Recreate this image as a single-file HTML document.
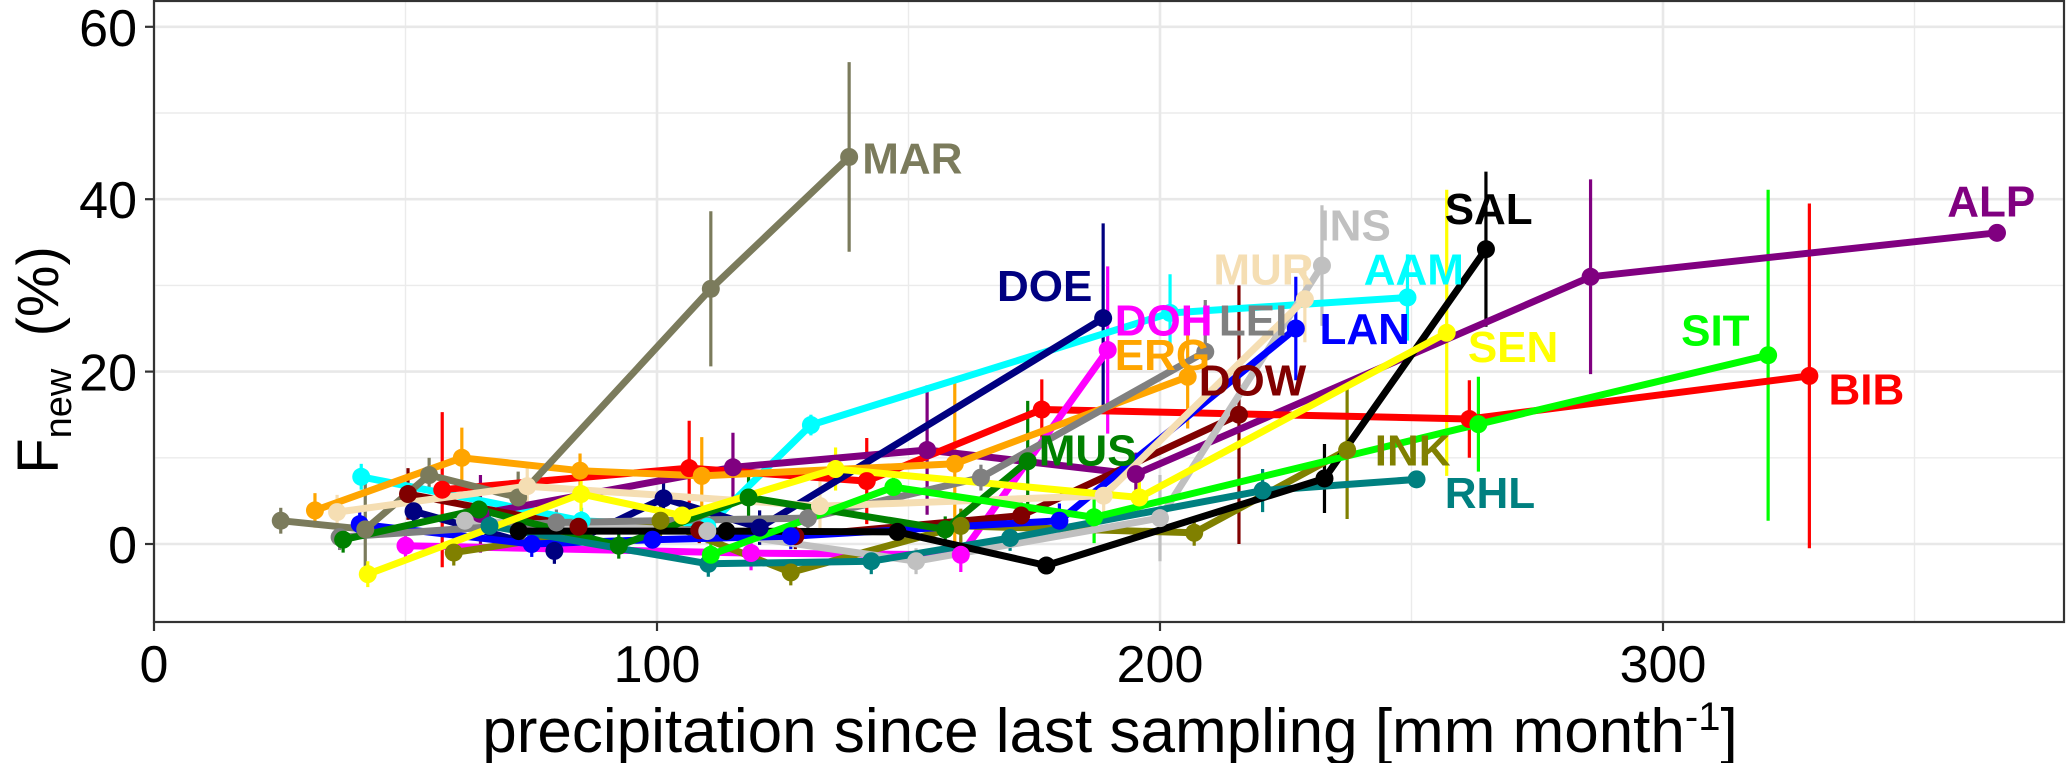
<!DOCTYPE html>
<html><head><meta charset="utf-8"><style>
html,body{margin:0;padding:0;background:#fff;}
svg{display:block;font-family:"Liberation Sans",Arial,sans-serif;}
</style></head><body>
<svg id="chart" width="2067" height="763" viewBox="0 0 2067 763" xmlns="http://www.w3.org/2000/svg">
<g id="grid"></g>
<g id="errs"></g>
<g id="lines"></g>
<g id="pts"></g>
<g id="labels"></g>
<g id="axes"></g>
<text x="1110" y="752" font-size="62" text-anchor="middle">precipitation since last sampling [mm month<tspan font-size="40" dy="-22">-1</tspan><tspan dy="22">]</tspan></text>
<text transform="translate(58,360) rotate(-90)" font-size="58" text-anchor="middle">F<tspan font-size="38" dy="13">new</tspan><tspan dy="-13" xml:space="preserve">  (%)</tspan></text>
</svg>
<script>
const xTicks = [0, 100, 200, 300];
const yTicks = [0, 20, 40, 60];
const sites = ["AAM","ALP","BIB","DOE","DOH","DOW","ERG","INK","INS","LAN","LEI","MAR","MUR","MUS","RHL","SAL","SEN","SIT"];
const siteColors = ["#00ffff","#800080","#ff0000","#000080","#ff00ff","#800000","#ffa500","#808000","#c0c0c0","#0000ff","#808080","#7b7b5c","#f5deb3","#008000","#008080","#000000","#ffff00","#00ff00"];
const labelX = [240.5,356.5,332.9,167.6,191,207.7,191,242.7,231.3,231.7,211.7,140.8,210.6,175.9,256.6,256.6,261.2,303.6];
const labelY = [30.1,38.0,16.2,28.2,24.2,17.2,20.2,9.1,35.2,23.2,24.2,43.0,30.1,9.1,4.2,37.1,21.1,23.0];

const AAM_x = [41.2,85,110,130.6,202,249.2];
const AAM_y = [7.8,2.7,2,13.8,26.8,28.6];
const AAM_e = [1.5,1.5,1.5,1.2,4.5,5];
const ALP_x = [64.9,115.1,153.7,195.2,285.6,366.4];
const ALP_y = [3.5,8.9,10.9,8.1,31,36.1];
const ALP_e = [4.5,4,7.5,2.5,11.3,0.5];
const BIB_x = [57.3,106.4,141.7,176.5,261.5,329.1];
const BIB_y = [6.3,8.8,7.3,15.6,14.5,19.5];
const BIB_e = [9,5.5,5,3.5,4.5,20];
const DOE_x = [51.6,79.6,101.3,120.4,188.7];
const DOE_y = [3.8,-0.8,5.3,1.9,26.2];
const DOE_e = [2,1.5,2,2,11];
const DOH_x = [50,118.7,160.4,189.6];
const DOH_y = [-0.2,-1.05,-1.25,22.5];
const DOH_e = [2,2,2,9.7];
const DOW_x = [50.5,84.4,108.4,127.5,172.4,215.7];
const DOW_y = [5.8,2,1.6,0.9,3.3,15];
const DOW_e = [3,1.5,1.5,1.5,1.5,15];
const ERG_x = [32,61.2,84.7,108.9,159.2,205.5];
const ERG_y = [3.9,10,8.5,7.9,9.3,19.4];
const ERG_e = [2,3.5,2,4.5,9.5,6];
const INK_x = [59.6,100.7,126.6,160.4,206.8,237.2];
const INK_y = [-1,2.7,-3.3,2.1,1.3,10.9];
const INK_e = [1.5,2,1.5,2,1.5,8];
const INS_x = [61.8,110,151.5,200,232.2];
const INS_y = [2.7,1.5,-2,3,32.3];
const INS_e = [1.5,1.5,1.5,5,7];
const LAN_x = [40.9,75.1,99.1,126.6,180,227];
const LAN_y = [2.3,0,0.5,0.9,2.7,25];
const LAN_e = [1.5,1.5,1.5,1.5,2,6];
const LEI_x = [36.9,80,130,164.4,209];
const LEI_y = [0.8,2.5,3,7.7,22.3];
const LEI_e = [1.5,1.5,1.5,1.5,6];
const MAR_x = [25.2,42,54.7,72.4,110.7,138.2];
const MAR_y = [2.7,1.7,8,5.4,29.6,44.9];
const MAR_e = [1.5,6,2,3,9,11];
const MUR_x = [36.4,74.2,132.4,188.8,228.8];
const MUR_y = [3.7,6.7,4.4,5.6,28.4];
const MUR_e = [2,2.5,3,3,5];
const MUS_x = [37.6,64.6,92.4,118.2,157.3,173.7];
const MUS_y = [0.5,4,-0.2,5.4,1.7,9.6];
const MUS_e = [1.5,2,1.5,2.5,1.5,7];
const RHL_x = [66.7,110.2,142.6,170.2,220.4,251];
const RHL_y = [2.1,-2.3,-2,0.7,6.2,7.5];
const RHL_e = [1.5,1.5,1.5,1.5,2.5,1];
const SAL_x = [72.5,113.8,147.8,177.4,232.7,264.8];
const SAL_y = [1.5,1.5,1.4,-2.5,7.6,34.2];
const SAL_e = [1,1,1,1,4,9];
const SEN_x = [42.5,84.9,105,135.5,195.9,257];
const SEN_y = [-3.5,5.8,3.3,8.7,5.4,24.5];
const SEN_e = [1.5,2,1.5,2.5,2,16.6];
const SIT_x = [110.7,147,186.9,263.3,320.9];
const SIT_y = [-1.25,6.6,3.1,13.9,21.9];
const SIT_e = [1.5,2,3,5.5,19.2];

const seriesX = [AAM_x,ALP_x,BIB_x,DOE_x,DOH_x,DOW_x,ERG_x,INK_x,INS_x,LAN_x,LEI_x,MAR_x,MUR_x,MUS_x,RHL_x,SAL_x,SEN_x,SIT_x];
const seriesY = [AAM_y,ALP_y,BIB_y,DOE_y,DOH_y,DOW_y,ERG_y,INK_y,INS_y,LAN_y,LEI_y,MAR_y,MUR_y,MUS_y,RHL_y,SAL_y,SEN_y,SIT_y];
const seriesE = [AAM_e,ALP_e,BIB_e,DOE_e,DOH_e,DOW_e,ERG_e,INK_e,INS_e,LAN_e,LEI_e,MAR_e,MUR_e,MUS_e,RHL_e,SAL_e,SEN_e,SIT_e];

const NS = "http://www.w3.org/2000/svg";
const L = 154, R = 2065, T = 1, B = 622;
const xMin = 0, xPx = 5.03;
const y0px = 544, yPx = 8.62;
function sx(v){ return L + (v - xMin) * xPx; }
function sy(v){ return y0px - v * yPx; }
function mk(tag, parent, attrs){
  const e = document.createElementNS(NS, tag);
  for (const k in attrs) e.setAttribute(k, attrs[k]);
  parent.appendChild(e);
  return e;
}
const grid = document.getElementById('grid');
const axes = document.getElementById('axes');
mk('rect', grid, {x:L, y:T, width:R-L, height:B-T, fill:'#fff'});
for (let v = 50; v < 380; v += 100) {
  const g = mk('line', grid, {x1:sx(v), x2:sx(v), y1:T, y2:B, stroke:'#ebebeb', 'stroke-width':1.4});
  
  
}
for (let v = -10; v < 64; v += 20) {
  if (sy(v) > B || sy(v) < T) continue;
  const g = mk('line', grid, {x1:L, x2:R, y1:sy(v), y2:sy(v), stroke:'#ebebeb', 'stroke-width':1.4});
  
  
}
xTicks.forEach(v => {
  const g = mk('line', grid, {x1:sx(v), x2:sx(v), y1:T, y2:B, stroke:'#e8e8e8', 'stroke-width':2.6});
  
  
  const t = mk('line', axes, {x1:sx(v), x2:sx(v), y1:B, y2:B+9, stroke:'#333', 'stroke-width':2.2});
  
  
  const lb = mk('text', axes, {x:sx(v), y:682, 'font-size':52, 'text-anchor':'middle', fill:'#000'});
  lb.textContent = v;
  
  
});
yTicks.forEach(v => {
  const g = mk('line', grid, {x1:L, x2:R, y1:sy(v), y2:sy(v), stroke:'#e8e8e8', 'stroke-width':2.6});
  
  
  const t = mk('line', axes, {x1:L-9, x2:L, y1:sy(v), y2:sy(v), stroke:'#333', 'stroke-width':2.2});
  
  
  const lb = mk('text', axes, {x:137, y:sy(v)+19, 'font-size':52, 'text-anchor':'end', fill:'#000'});
  lb.textContent = v;
  
  
});
const border = mk('rect', axes, {x:L, y:T, width:R-L-1, height:B-T, fill:'none', stroke:'#333', 'stroke-width':2.2});



const errs = document.getElementById('errs');
const lines = document.getElementById('lines');
const pts = document.getElementById('pts');
const labels = document.getElementById('labels');
sites.forEach((s, i) => {
  const xs = seriesX[i], ys = seriesY[i], es = seriesE[i], c = siteColors[i];
  xs.forEach((xv, j) => {
    const e = mk('line', errs, {x1:sx(xv), x2:sx(xv), y1:sy(ys[j]-es[j]), y2:sy(ys[j]+es[j]), stroke:c, 'stroke-width':3.2});
    
    
  });
  const d = xs.map((xv, j) => (j ? 'L' : 'M') + sx(xv).toFixed(1) + ',' + sy(ys[j]).toFixed(1)).join(' ');
  const p = mk('path', lines, {d:d, fill:'none', stroke:c, 'stroke-width':7, 'stroke-linejoin':'round'});
  
  
  xs.forEach((xv, j) => {
    const pt = mk('circle', pts, {cx:sx(xv), cy:sy(ys[j]), r:9, fill:c});
    
    
  });
  const lb = mk('text', labels, {x:sx(labelX[i]), y:sy(labelY[i]), 'font-size':44, 'font-weight':'bold', fill:c});
  lb.textContent = s;
  
  
});
</script>
</body></html>
